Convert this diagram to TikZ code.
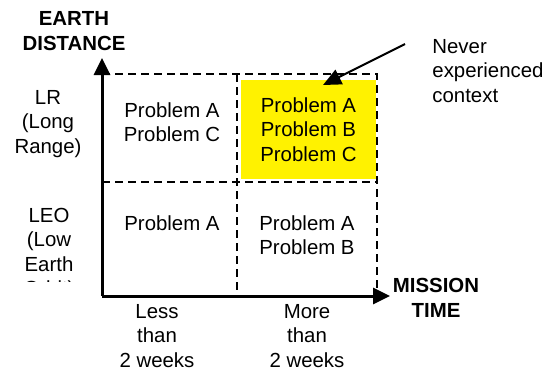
\documentclass[tikz,border=0pt]{standalone}
\usepackage{fontspec}
\setmainfont{Liberation Sans}
\usetikzlibrary{arrows.meta}

\begin{document}
\begin{tikzpicture}[x=0.5pt,y=-0.5pt,
  every node/.style={inner sep=0pt,align=center,font=\fontsize{10.2}{12.3}\selectfont},
  axislabel/.style={font=\fontsize{10.2}{12.3}\selectfont\bfseries},
  grid/.style={line width=1pt,dash pattern=on 4pt off 2.5pt},
  axis/.style={line width=1.5pt,-{Triangle[length=8.5pt,width=8pt]}}]
  \useasboundingbox (0,0) rectangle (555,372);
  \coordinate [] (O) at (102,296);
  \coordinate [] (Ytop) at (102,58);
  \coordinate [] (Xend) at (390,296);
  \coordinate [] (TL) at (102,74);
  \coordinate [] (TR) at (377,74);
  \coordinate [] (BR) at (377,296);
  \coordinate [] (ML) at (102,182);
  \coordinate [] (MR) at (377,182);
  \coordinate [] (TM) at (237,74);
  \coordinate [] (BM) at (237,296);

  \node[fill=yellow,minimum width=67.5pt,minimum height=49.5pt] (hot) at (308.5,129.5) {Problem A\\Problem B\\Problem C};
  \draw[grid] (TL) -- (TR) -- (BR);
  \draw[grid] (ML) -- (MR);
  \draw[grid] (TM) -- (BM);
  \draw[axis] (O) -- (Ytop);
  \draw[axis] (O) -- (Xend);

  \node[axislabel] (ydist) at (74,31) {EARTH\\DISTANCE};
  \node[axislabel] (xtime) at (436,298) {MISSION\\TIME};
  \node (lr) at (48,124) {LR\\(Long\\Range)};
  \begin{scope}
    \clip (0,190) rectangle (100,281.5);
    \node (leo) at (49,254) {LEO\\(Low\\Earth\\Orbit)};
  \end{scope}
  \node (ac) at (172,122) {Problem A\\Problem C};
  \node (a) at (172,223) {Problem A};
  \node (ab) at (307,235) {Problem A\\Problem B};
  \node (less) at (157,336) {Less\\than\\2 weeks};
  \node (more) at (307,336) {More\\than\\2 weeks};

  \node[anchor=west,align=left] (note) at (432,71) {Never\\experienced\\context};
  \coordinate (tail) at (405,44);
  \coordinate (tip) at (323,85);
  \draw[line width=1pt,-{Triangle[length=9pt,width=8pt]}] (tail) -- (tip);
  %\draw[help lines,step=20] (0,0) grid (555,372);
\end{tikzpicture}
\end{document}
